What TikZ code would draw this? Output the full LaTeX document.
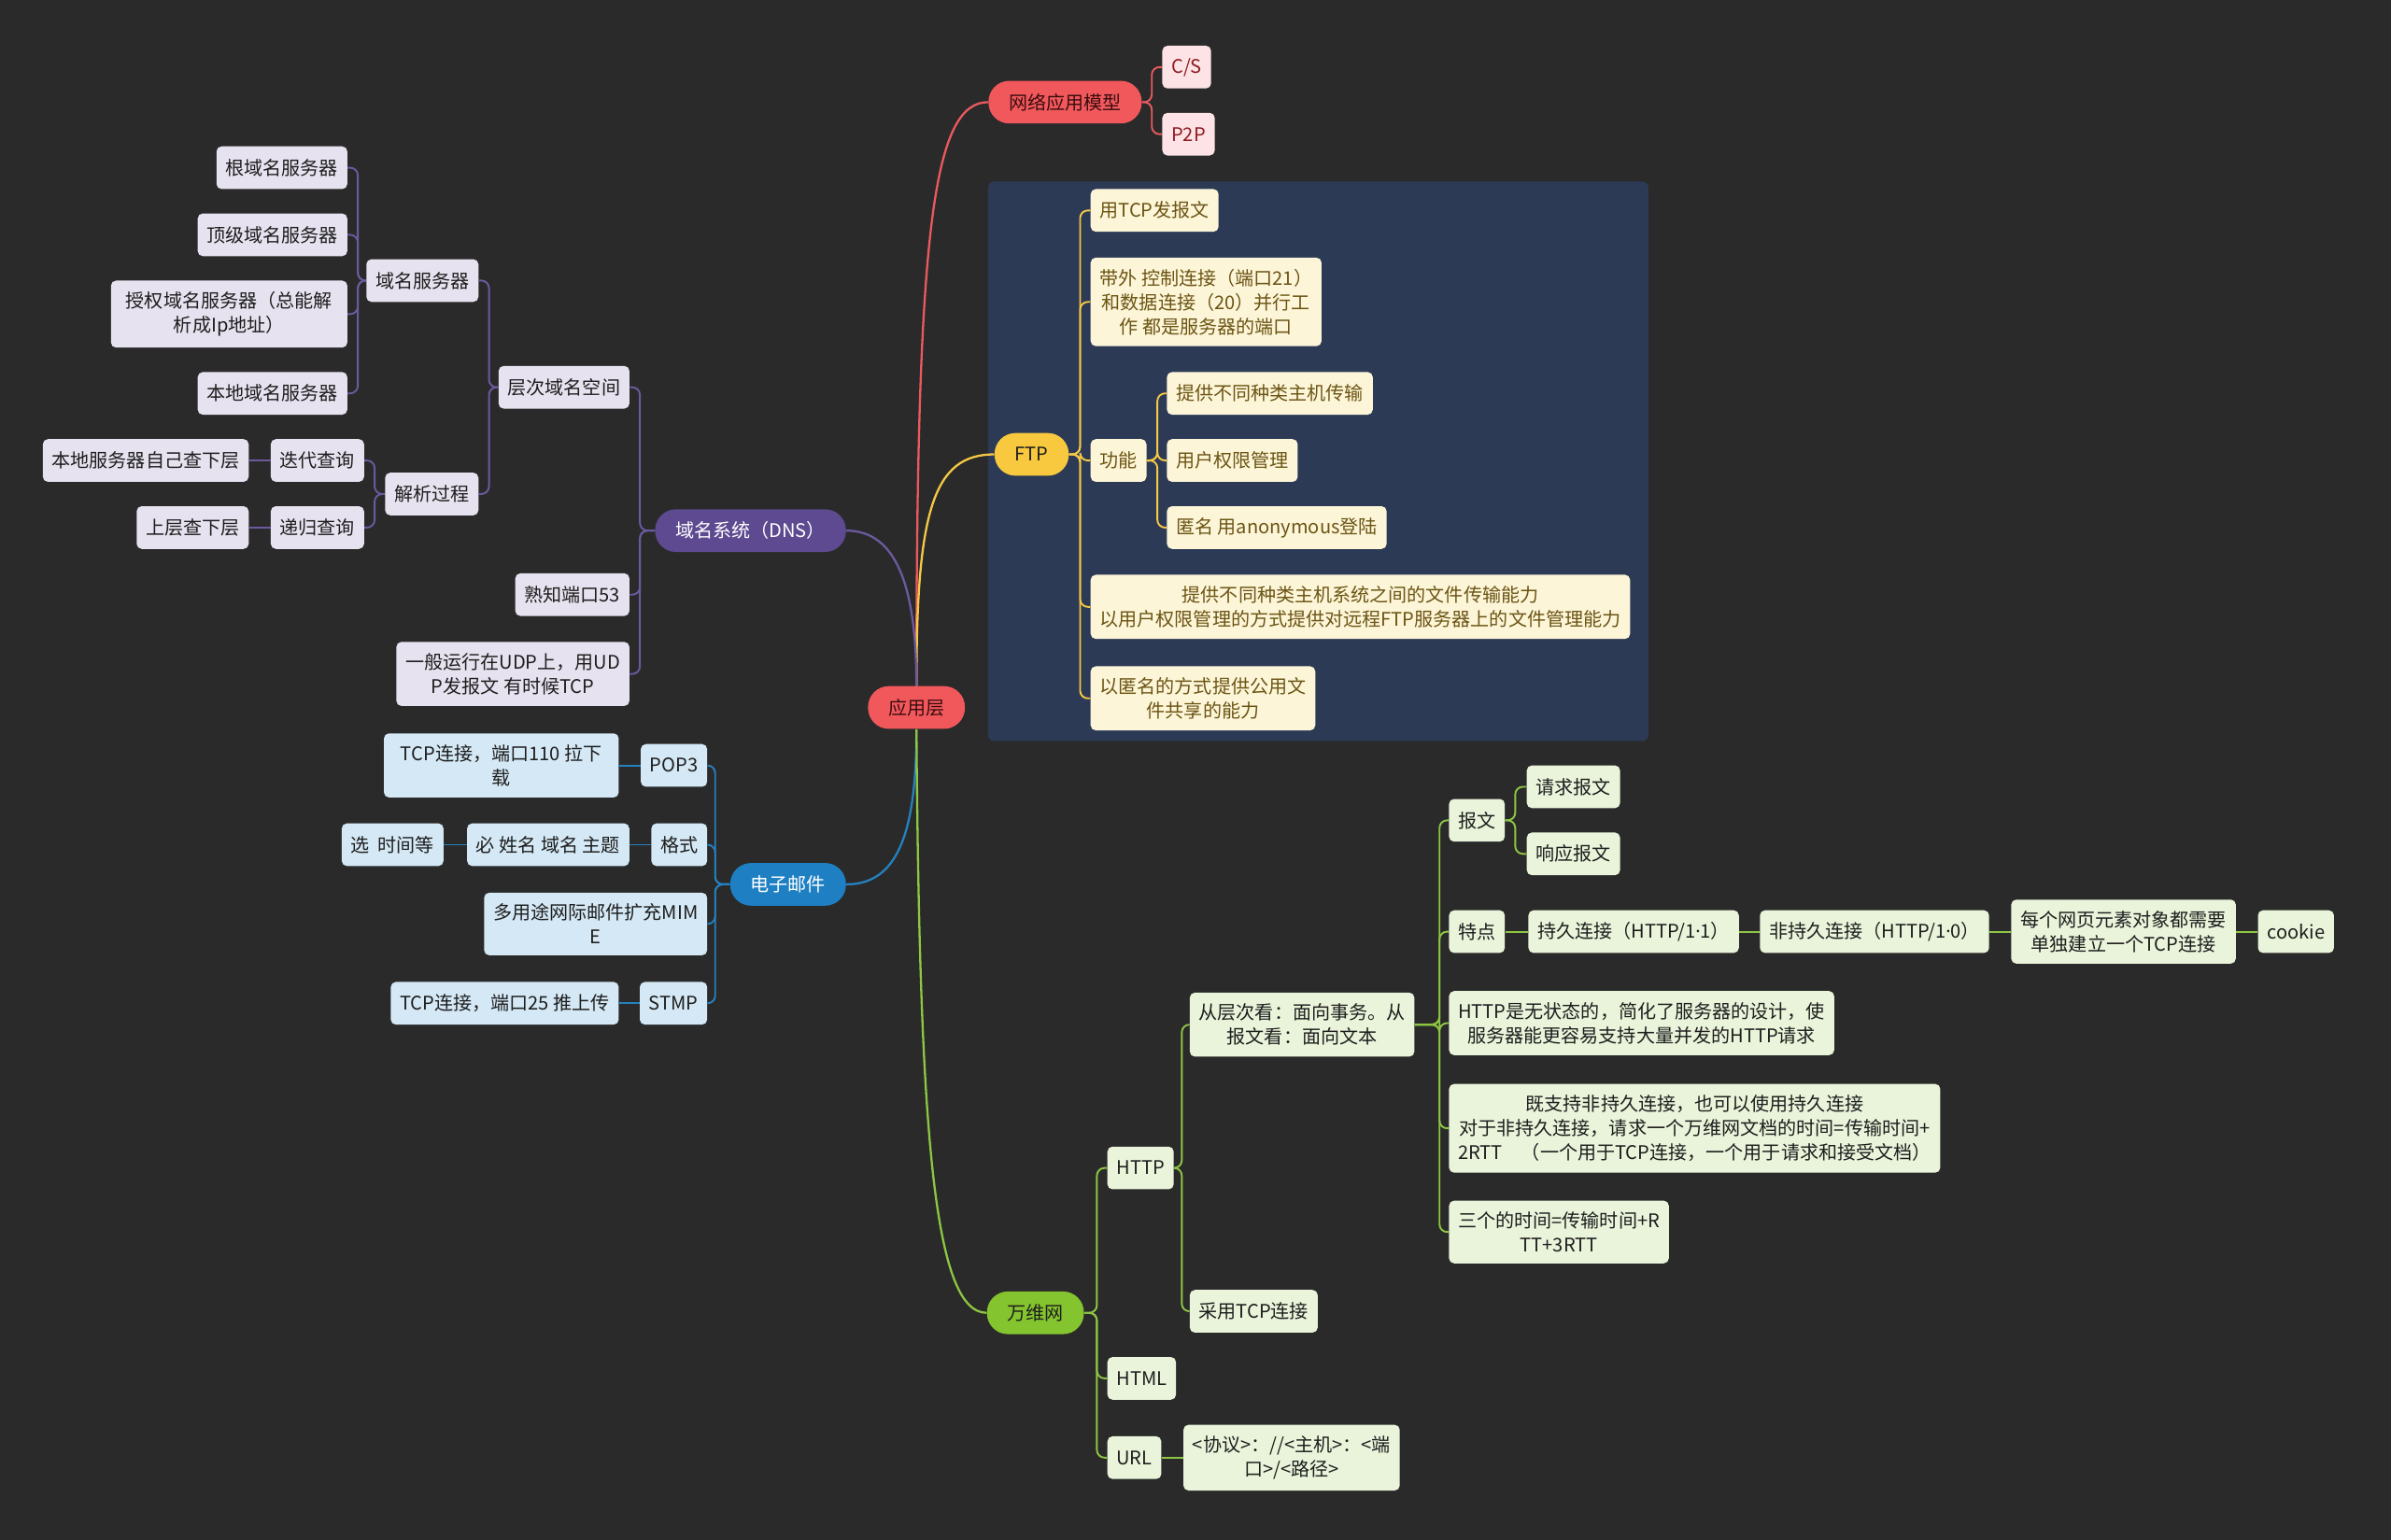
\documentclass[tikz,border=0pt]{standalone}
\usepackage{fontspec}
\setmainfont{Noto Sans CJK SC}
\newfontfamily\latinf{Noto Sans}
\usetikzlibrary{positioning}

\definecolor{bgc}{HTML}{2A2A2A}
\definecolor{panelc}{HTML}{2C3A56}
\definecolor{rootc}{HTML}{F1585C}
\definecolor{roott}{HTML}{3A0D0F}
\definecolor{redl}{HTML}{E95A5E}
\definecolor{redbg}{HTML}{FDE3E5}
\definecolor{redt}{HTML}{8E1B22}
\definecolor{yelc}{HTML}{F8C93E}
\definecolor{yell}{HTML}{F5C845}
\definecolor{yelbg}{HTML}{FDF5D8}
\definecolor{yelt}{HTML}{6B5514}
\definecolor{purc}{HTML}{5D4A90}
\definecolor{purl}{HTML}{6C5AA0}
\definecolor{purbg}{HTML}{E6E2EF}
\definecolor{bluc}{HTML}{1E80C3}
\definecolor{blul}{HTML}{2581BF}
\definecolor{blubg}{HTML}{D4E8F5}
\definecolor{grnc}{HTML}{84C42E}
\definecolor{grnl}{HTML}{8DC643}
\definecolor{grnbg}{HTML}{E9F4DA}
\definecolor{darkt}{HTML}{1E1E1E}

\tikzset{
  box/.style={rounded corners=0.1cm, inner xsep=0.18cm, inner ysep=0.22cm,
    minimum height=0.84cm, align=center, font=\fontsize{10.5}{13.6}\selectfont},
  pill/.style={box, rounded corners=0.41cm, inner xsep=0.4cm},
  redpill/.style={pill, fill=rootc, text=roott},
  redbox/.style={box, fill=redbg, text=redt},
  yelpill/.style={pill, fill=yelc, text=darkt},
  yelbox/.style={box, fill=yelbg, text=yelt},
  purpill/.style={pill, fill=purc, text=white},
  purbox/.style={box, fill=purbg, text=darkt},
  blupill/.style={pill, fill=bluc, text=white},
  blubox/.style={box, fill=blubg, text=darkt},
  grnpill/.style={pill, fill=grnc, text=darkt},
  grnbox/.style={box, fill=grnbg, text=darkt},
  link/.style={line width=1pt, rounded corners=0.15cm},
  mainlink/.style={line width=1.2pt},
}

\begin{document}
\begin{tikzpicture}[x=0.03cm, y=-0.03cm]
  % 背景
  \fill[bgc] (0,0) rectangle (1568,1010);
  \useasboundingbox (0,0) rectangle (1568,1010);
  \fill[panelc, rounded corners=0.12cm] (648,119) rectangle (1081,486);

  % 中心主题
  \node[redpill] (app) at (601,464) {应用层};

  % 网络应用模型
  \node[redpill, anchor=west] (model) at (648,67) {网络应用模型};
  \node[redbox, anchor=west] (cs) at (762,44) {C/S};
  \node[redbox, anchor=west] (ptp) at (762,88) {P2P};

  % FTP
  \node[yelpill, anchor=west] (ftp) at (652,298) {FTP};
  \node[yelbox, anchor=west] (tcpmsg) at (715,138) {用TCP发报文};
  \node[yelbox, anchor=west] (ports) at (715,198) {带外 控制连接（端口21）\\和数据连接（20）并行工\\作 都是服务器的端口};
  \node[yelbox, anchor=west] (func) at (715,302) {功能};
  \node[yelbox, anchor=west] (fa) at (765,258) {提供不同种类主机传输};
  \node[yelbox, anchor=west] (fb) at (765,302) {用户权限管理};
  \node[yelbox, anchor=west] (fc) at (765,346) {匿名 用anonymous登陆};
  \node[yelbox, anchor=west] (ability) at (715,398) {提供不同种类主机系统之间的文件传输能力\\以用户权限管理的方式提供对远程FTP服务器上的文件管理能力};
  \node[yelbox, anchor=west] (share) at (715,458) {以匿名的方式提供公用文\\件共享的能力};

  % 域名系统
  \node[purpill, anchor=east] (dns) at (555,348) {域名系统（DNS）};
  \node[purbox, anchor=east] (space) at (413,254) {层次域名空间};
  \node[purbox, anchor=east] (server) at (314,184) {域名服务器};
  \node[purbox, anchor=east] (sa) at (228,110) {根域名服务器};
  \node[purbox, anchor=east] (sb) at (228,154) {顶级域名服务器};
  \node[purbox, anchor=east, minimum width=4.65cm] (sc) at (228,206) {授权域名服务器（总能解\\析成Ip地址）};
  \node[purbox, anchor=east] (sd) at (228,258) {本地域名服务器};
  \node[purbox, anchor=east] (resolve) at (314,324) {解析过程};
  \node[purbox, anchor=east] (iter) at (239,302) {迭代查询};
  \node[purbox, left=0.42cm of iter] (iterx) {本地服务器自己查下层};
  \node[purbox, anchor=east] (recur) at (239,346) {递归查询};
  \node[purbox, left=0.42cm of recur] (recurx) {上层查下层};
  \node[purbox, anchor=east] (port53) at (413,390) {熟知端口53};
  \node[purbox, anchor=east] (udp) at (413,442) {一般运行在UDP上，用UD\\P发报文 有时候TCP};

  % 电子邮件
  \node[blupill, anchor=east] (mail) at (555,580) {电子邮件};
  \node[blubox, anchor=east] (pop) at (464,502) {POP3};
  \node[blubox, left=0.42cm of pop, minimum width=4.62cm] (popx) {TCP连接，端口110 拉下\\载};
  \node[blubox, anchor=east] (fmt) at (464,554) {格式};
  \node[blubox, left=0.42cm of fmt] (must) {必 姓名 域名 主题};
  \node[blubox, left=0.45cm of must] (opt) {选\ \ 时间等};
  \node[blubox, anchor=east] (mime) at (464,606) {多用途网际邮件扩充MIM\\E};
  \node[blubox, anchor=east] (smtp) at (464,658) {STMP};
  \node[blubox, left=0.4cm of smtp] (smtpx) {TCP连接，端口25 推上传};

  % 万维网
  \node[grnpill, anchor=west] (www) at (647,861) {万维网};
  \node[grnbox, anchor=west] (http) at (726,766) {HTTP};
  \node[grnbox, anchor=west] (view) at (780,672) {从层次看：面向事务。从\\报文看：面向文本};
  \node[grnbox, anchor=west] (msg) at (950,538) {报文};
  \node[grnbox, anchor=west] (req) at (1001,516) {请求报文};
  \node[grnbox, anchor=west] (resp) at (1001,560) {响应报文};
  \node[grnbox, anchor=west] (feat) at (950,611) {特点};
  \node[grnbox, right=0.45cm of feat] (pers) {持久连接（HTTP/1{\latinf ·}1）};
  \node[grnbox, right=0.4cm of pers] (npers) {非持久连接（HTTP/1{\latinf ·}0）};
  \node[grnbox, right=0.42cm of npers] (each) {每个网页元素对象都需要\\单独建立一个TCP连接};
  \node[grnbox, right=0.42cm of each] (cookie) {cookie};
  \node[grnbox, anchor=west] (stateless) at (950,671) {HTTP是无状态的，简化了服务器的设计，使\\服务器能更容易支持大量并发的HTTP请求};
  \node[grnbox, anchor=west] (both) at (950,740) {既支持非持久连接，也可以使用持久连接\\对于非持久连接，请求一个万维网文档的时间=传输时间+\\2RTT\quad（一个用于TCP连接，一个用于请求和接受文档）};
  \node[grnbox, anchor=west] (three) at (950,808) {三个的时间=传输时间+R\\TT+3RTT};
  \node[grnbox, anchor=west] (tcpconn) at (780,860) {采用TCP连接};
  \node[grnbox, anchor=west] (html) at (726,904) {HTML};
  \node[grnbox, anchor=west] (url) at (726,956) {URL};
  \node[grnbox, right=0.42cm of url] (urlfmt) {<协议>：//<主机>：<端\\口>/<路径>};

  % 主干曲线
  \draw[mainlink, redl] (app.north) .. controls (601,150) and (612,67) .. (model.west);
  \draw[mainlink, yell] (app.north) .. controls (601,335) and (612,298) .. (ftp.west);
  \draw[mainlink, purl] (app.north) .. controls (601,385) and (588,348) .. (dns.east);
  \draw[mainlink, blul] (app.south) .. controls (601,548) and (588,580) .. (mail.east);
  \draw[mainlink, grnl] (app.south) .. controls (603,740) and (612,861) .. (www.west);

  % 右侧分支
  \foreach \c in {cs,ptp}
    \draw[link, redl] (model.east) -| ([xshift=-0.2cm]\c.west) -- (\c.west);
  \foreach \c in {tcpmsg,ports,func,ability,share}
    \draw[link, yell] (ftp.east) -| ([xshift=-0.2cm]\c.west) -- (\c.west);
  \foreach \c in {fa,fb,fc}
    \draw[link, yell] (func.east) -| ([xshift=-0.18cm]\c.west) -- (\c.west);
  \foreach \c in {http,html,url}
    \draw[link, grnl] (www.east) -| ([xshift=-0.2cm]\c.west) -- (\c.west);
  \foreach \c in {view,tcpconn}
    \draw[link, grnl] (http.east) -| ([xshift=-0.15cm]\c.west) -- (\c.west);
  \foreach \c in {msg,feat,stateless,both,three}
    \draw[link, grnl] (view.east) -| ([xshift=-0.18cm]\c.west) -- (\c.west);
  \foreach \c in {req,resp}
    \draw[link, grnl] (msg.east) -| ([xshift=-0.22cm]\c.west) -- (\c.west);
  \draw[link, grnl] (feat.east) -- (pers.west);
  \draw[link, grnl] (pers.east) -- (npers.west);
  \draw[link, grnl] (npers.east) -- (each.west);
  \draw[link, grnl] (each.east) -- (cookie.west);
  \draw[link, grnl] (url.east) -- (urlfmt.west);

  % 左侧分支
  \foreach \c in {space,port53,udp}
    \draw[link, purl] (dns.west) -| ([xshift=0.2cm]\c.east) -- (\c.east);
  \foreach \c in {server,resolve}
    \draw[link, purl] (space.west) -| ([xshift=0.2cm]\c.east) -- (\c.east);
  \foreach \c in {sa,sb,sc,sd}
    \draw[link, purl] (server.west) -| ([xshift=0.2cm]\c.east) -- (\c.east);
  \foreach \c in {iter,recur}
    \draw[link, purl] (resolve.west) -| ([xshift=0.2cm]\c.east) -- (\c.east);
  \draw[link, purl] (iter.west) -- (iterx.east);
  \draw[link, purl] (recur.west) -- (recurx.east);
  \foreach \c in {pop,fmt,mime,smtp}
    \draw[link, blul] (mail.west) -| ([xshift=0.15cm]\c.east) -- (\c.east);
  \draw[link, blul] (pop.west) -- (popx.east);
  \draw[link, blul] (fmt.west) -- (must.east);
  \draw[link, blul] (must.west) -- (opt.east);
  \draw[link, blul] (smtp.west) -- (smtpx.east);
\end{tikzpicture}
\end{document}
